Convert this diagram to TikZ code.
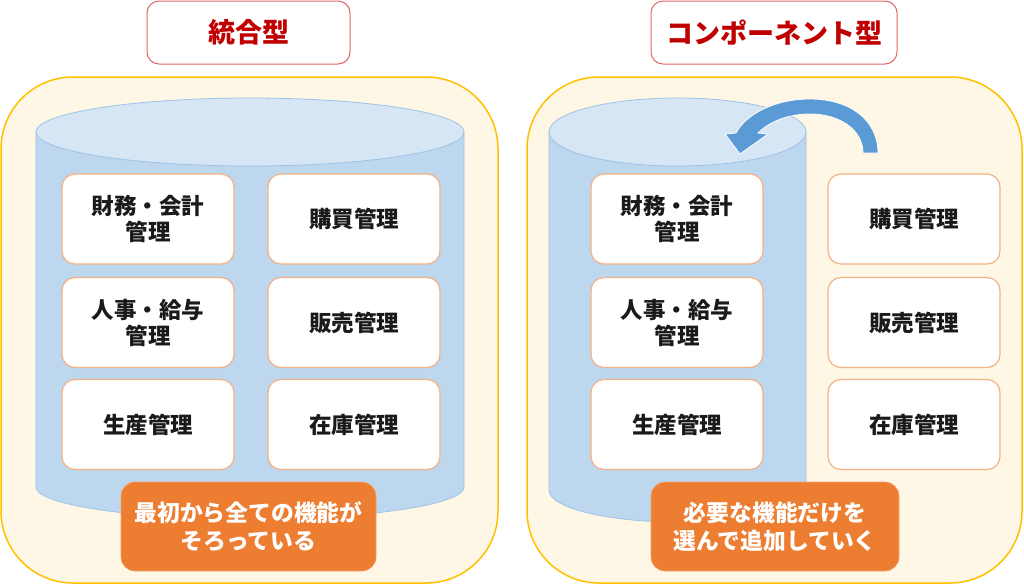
\documentclass[tikz,border=0pt]{standalone}
\usepackage{fontspec}
\newfontfamily\jp{Noto Sans CJK JP}
\definecolor{contfill}{HTML}{FFF7E5}
\definecolor{contline}{HTML}{FFC000}
\definecolor{cylside}{HTML}{BDD7EE}
\definecolor{cyltop}{HTML}{D6E6F5}
\definecolor{cylline}{HTML}{9DC3E6}
\definecolor{modline}{HTML}{F4B183}
\definecolor{titleline}{HTML}{E06666}
\definecolor{titletext}{HTML}{C00000}
\definecolor{callfill}{HTML}{ED7D31}
\definecolor{arrowblue}{HTML}{5B9BD5}
\definecolor{txt}{HTML}{1A1A1A}
\tikzset{
  container/.style={draw=contline, line width=1.5pt, fill=contfill, rounded corners=72pt, minimum width=497pt, minimum height=506pt, inner sep=0pt},
  cylbody/.style={draw=cylline, line width=0.8pt, fill=cylside},
  cyltopface/.style={draw=cylline, line width=0.8pt, fill=cyltop},
  modbox/.style={draw=modline, line width=1.2pt, fill=white, rounded corners=13pt, minimum width=172pt, minimum height=90pt, inner sep=0pt, align=center, text=txt, font=\jp\bfseries\fontsize{22.5}{26}\selectfont},
  titlebox/.style={draw=titleline, line width=1pt, fill=white, rounded corners=12pt, minimum height=63pt, inner sep=0pt, text=titletext, font=\jp\bfseries\fontsize{27}{30}\selectfont},
  callout/.style={draw=callfill!70!white, line width=0.6pt, fill=callfill, rounded corners=14pt, minimum height=89pt, inner sep=0pt, align=center, text=white, font=\jp\bfseries\fontsize{22.8}{28}\selectfont},
  bluearrow/.style={fill=arrowblue, draw=white, line width=0.8pt, line join=miter}
}
\begin{document}
\begin{tikzpicture}[x=1pt, y=-1pt]
\useasboundingbox (0,0) rectangle (1024,584);
% titles
\node[titlebox, minimum width=203pt] (t1) at (248.5,32.5) {統合型};
\node[titlebox, minimum width=246pt] (t2) at (774,32.5) {コンポーネント型};
% containers
\node[container] (c1) at (249.5,330) {};
\node[container, minimum width=495pt] (c2) at (774.5,330) {};
% left cylinder
\path[cylbody] (36,132) -- (36,487) arc[start angle=180, end angle=0, x radius=214, y radius=32] -- (464,132) -- cycle;
\path[cyltopface] (250,132) ellipse[x radius=214, y radius=34];
% right cylinder
\path[cylbody] (549,132) -- (549,490) arc[start angle=180, end angle=0, x radius=128.5, y radius=32] -- (806,132) -- cycle;
\path[cyltopface] (677.5,132) ellipse[x radius=128.5, y radius=34];
% arrow
\path[bluearrow] (878,153) .. controls (878,120) and (850,99) .. (810,99)
  .. controls (775,99) and (746,114) .. (736,133)
  -- (725,134) -- (740,154) -- (768,134) -- (758,133)
  .. controls (770,121) and (789,114) .. (810,114)
  .. controls (840,114) and (863,130) .. (863,153) -- cycle;
% left modules
\node[modbox] (l11) at (148,219) {財務・会計\\管理};
\node[modbox] (l12) at (354,219) {購買管理};
\node[modbox] (l21) at (148,322.5) {人事・給与\\管理};
\node[modbox] (l22) at (354,322.5) {販売管理};
\node[modbox] (l31) at (148,424.5) {生産管理};
\node[modbox] (l32) at (354,424.5) {在庫管理};
% right modules
\node[modbox] (r11) at (677,219) {財務・会計\\管理};
\node[modbox] (r12) at (914,219) {購買管理};
\node[modbox] (r21) at (677,322.5) {人事・給与\\管理};
\node[modbox] (r22) at (914,322.5) {販売管理};
\node[modbox] (r31) at (677,424.5) {生産管理};
\node[modbox] (r32) at (914,424.5) {在庫管理};
% callouts
\node[callout, minimum width=255pt] (k1) at (248.5,526.5) {最初から全ての機能が\\そろっている};
\node[callout, minimum width=248pt] (k2) at (775,526.5) {必要な機能だけを\\選んで追加していく};
\end{tikzpicture}
\end{document}
